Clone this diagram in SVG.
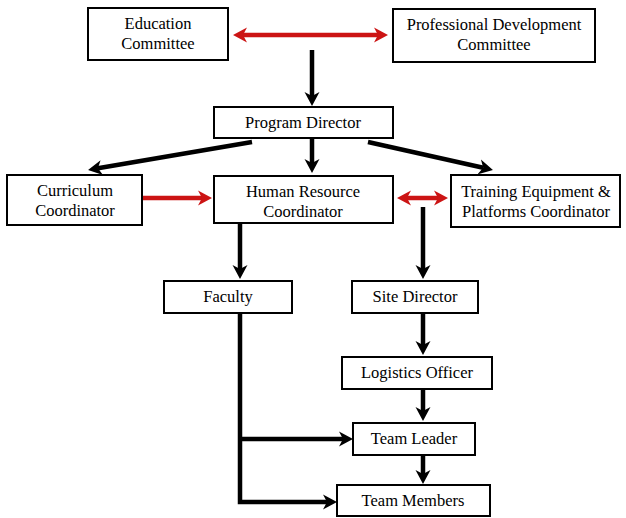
<svg xmlns="http://www.w3.org/2000/svg" width="626" height="518" viewBox="0 0 626 518">
<style>
.box rect{fill:#fff;stroke:#000;stroke-width:2}
.box text{font-size:16.5px;fill:#000;text-anchor:middle}
.blk{fill:none;stroke:#000;stroke-width:4.5}
.red{fill:none;stroke:#cc1414;stroke-width:4.5}
</style>
<defs>
<marker id="ab" markerUnits="userSpaceOnUse" markerWidth="16" markerHeight="16" viewBox="0 -8 16 16" refX="4" refY="0" orient="auto-start-reverse">
<path d="M0,-7.5 L14,0 L0,7.5 L4,0 Z" fill="#000"/>
</marker>
<marker id="ar" markerUnits="userSpaceOnUse" markerWidth="16" markerHeight="16" viewBox="0 -8 16 16" refX="4" refY="0" orient="auto-start-reverse">
<path d="M0,-7.5 L14,0 L0,7.5 L4,0 Z" fill="#cc1414"/>
</marker>
</defs>
<rect width="626" height="518" fill="#fff"/>
<g id="connectors">
<line class="red" x1="243" y1="35" x2="378" y2="35" marker-start="url(#ar)" marker-end="url(#ar)"/>
<line class="blk" x1="312" y1="50" x2="312" y2="96" marker-end="url(#ab)"/>
<line class="blk" x1="252" y1="142" x2="97.9" y2="168.3" marker-end="url(#ab)"/>
<line class="blk" x1="312" y1="138" x2="312" y2="163" marker-end="url(#ab)"/>
<line class="blk" x1="368" y1="142" x2="483.2" y2="167.8" marker-end="url(#ab)"/>
<line class="red" x1="142" y1="198" x2="202" y2="198" marker-end="url(#ar)"/>
<line class="red" x1="407" y1="198" x2="438" y2="198" marker-start="url(#ar)" marker-end="url(#ar)"/>
<line class="blk" x1="240" y1="223" x2="240" y2="269" marker-end="url(#ab)"/>
<line class="blk" x1="423" y1="207" x2="423" y2="269" marker-end="url(#ab)"/>
<line class="blk" x1="423" y1="313" x2="423" y2="345" marker-end="url(#ab)"/>
<line class="blk" x1="423" y1="389" x2="423" y2="411" marker-end="url(#ab)"/>
<line class="blk" x1="423" y1="455" x2="423" y2="474" marker-end="url(#ab)"/>
<path class="blk" d="M240 313 V502 H327" marker-end="url(#ab)"/>
<path class="blk" d="M240 439 H343" marker-end="url(#ab)"/>
</g>
<g font-family="'Liberation Serif', 'DejaVu Serif', 'Times New Roman', serif">
<g id="education" class="box"><rect x="88" y="8" width="140" height="52"/><text x="158" y="29">Education</text><text x="158" y="49">Committee</text></g>
<g id="professional" class="box"><rect x="393" y="9" width="202" height="53"/><text x="494" y="30">Professional Development</text><text x="494" y="50">Committee</text></g>
<g id="program" class="box"><rect x="214" y="107" width="179" height="31"/><text x="303" y="128">Program Director</text></g>
<g id="curriculum" class="box"><rect x="7" y="175" width="135" height="50"/><text x="75" y="196">Curriculum</text><text x="75" y="216">Coordinator</text></g>
<g id="hr" class="box"><rect x="214" y="176" width="179" height="47"/><text x="303" y="197">Human Resource</text><text x="303" y="217">Coordinator</text></g>
<g id="training" class="box"><rect x="451" y="175" width="169" height="52"/><text x="536" y="197">Training Equipment &amp;</text><text x="536" y="217">Platforms Coordinator</text></g>
<g id="faculty" class="box"><rect x="164" y="281" width="128" height="32"/><text x="228" y="302">Faculty</text></g>
<g id="site" class="box"><rect x="352" y="281" width="126" height="32"/><text x="415" y="302">Site Director</text></g>
<g id="logistics" class="box"><rect x="342" y="357" width="150" height="32"/><text x="417" y="378">Logistics Officer</text></g>
<g id="leader" class="box"><rect x="353" y="423" width="122" height="32"/><text x="414" y="444">Team Leader</text></g>
<g id="members" class="box"><rect x="337" y="485" width="153" height="31"/><text x="413" y="506">Team Members</text></g>
</g>
</svg>
